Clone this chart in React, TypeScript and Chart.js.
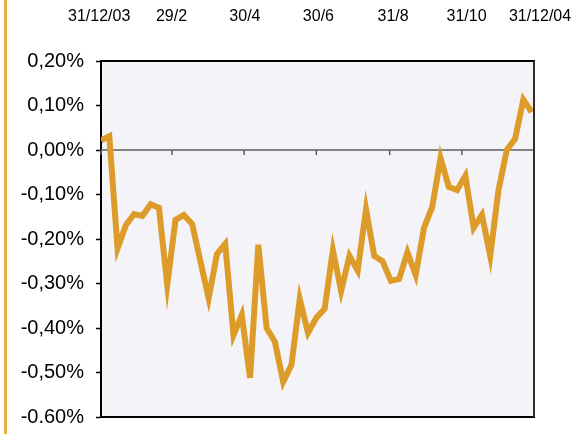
import React, { useEffect, useRef } from 'react';
import { Chart, registerables } from 'chart.js';

Chart.register(...registerables);

// Day offsets from 31/12/03 (weekly observations)
const obsDays = [
  0, 7, 14, 21, 28, 35, 42, 49, 56, 63, 70, 77, 84, 91, 98, 105, 112, 119,
  126, 133, 140, 147, 154, 161, 168, 175, 182, 189, 196, 203, 210, 217, 224,
  231, 238, 245, 252, 259, 266, 273, 280, 287, 294, 301, 308, 315, 322, 329,
  336, 343, 350, 357, 364,
];

// Series values, in percent
const seriesValues = [
  0.022, 0.031, -0.221, -0.169, -0.144, -0.148, -0.122, -0.13, -0.303, -0.157,
  -0.146, -0.166, -0.25, -0.333, -0.234, -0.211, -0.416, -0.371, -0.512, -0.213,
  -0.4, -0.431, -0.521, -0.483, -0.335, -0.411, -0.377, -0.357, -0.225, -0.317,
  -0.238, -0.271, -0.133, -0.238, -0.25, -0.294, -0.29, -0.23, -0.281, -0.175,
  -0.128, -0.018, -0.083, -0.09, -0.058, -0.175, -0.146, -0.238, -0.09, 0.0,
  0.025, 0.113, 0.085,
];

// Date ticks (day offsets) and their labels
const tickDays = [0, 60, 121, 182, 244, 305, 366];
const topLabels = ['31/12/03', '29/2', '30/4', '30/6', '31/8', '31/10', '31/12/04'];

const FONT = "'Liberation Sans', Arial, Helvetica, sans-serif";

const framePlugin = {
  id: 'frame',
  beforeDraw(chart: any) {
    const { ctx, chartArea: a } = chart;
    ctx.save();
    ctx.fillStyle = '#F4F4F8';
    ctx.fillRect(a.left, a.top, a.right - a.left, a.bottom - a.top);
    ctx.restore();
  },
  beforeDatasetsDraw(chart: any) {
    const { ctx, chartArea: a } = chart;
    const xs = chart.scales.x;
    const ys = chart.scales.y;
    const y0 = ys.getPixelForValue(0);
    ctx.save();
    ctx.strokeStyle = '#5c5c5c';
    ctx.lineWidth = 1.5;
    ctx.beginPath();
    ctx.moveTo(a.left, y0);
    ctx.lineTo(a.right, y0);
    ctx.stroke();
    tickDays.forEach((d) => {
      const px = xs.getPixelForValue(d);
      ctx.beginPath();
      ctx.moveTo(px, y0);
      ctx.lineTo(px, y0 + 5);
      ctx.stroke();
    });
    ctx.restore();
    ctx.miterLimit = 10;
  },
  afterDraw(chart: any) {
    const { ctx, chartArea: a } = chart;
    ctx.save();
    ctx.lineWidth = 2;
    ctx.strokeStyle = '#000';
    ctx.beginPath();
    ctx.moveTo(a.left - 1, a.top);
    ctx.lineTo(a.right + 1, a.top);
    ctx.moveTo(a.left - 1, a.bottom);
    ctx.lineTo(a.right + 1, a.bottom);
    ctx.stroke();
    ctx.strokeStyle = '#2e2e2e';
    ctx.beginPath();
    ctx.moveTo(a.right, a.top);
    ctx.lineTo(a.right, a.bottom);
    ctx.stroke();
    ctx.restore();
  },
};

export default function App() {
  const ref = useRef<HTMLCanvasElement>(null);

  useEffect(() => {
    Chart.defaults.font.family = FONT;
    const chart = new Chart(ref.current as HTMLCanvasElement, {
      type: 'line',
      data: {
        datasets: [
          {
            data: obsDays.map((d, i) => ({ x: d, y: seriesValues[i] })),
            borderColor: '#DD9C29',
            borderWidth: 6,
            pointRadius: 0,
            tension: 0,
            fill: false,
            borderJoinStyle: 'miter',
            xAxisID: 'x',
            yAxisID: 'y',
          },
        ],
      },
      options: {
        responsive: false,
        maintainAspectRatio: false,
        animation: false,
        layout: { padding: { left: 0, top: 0, right: 41, bottom: 17 } },
        plugins: {
          legend: { display: false },
          tooltip: { enabled: false },
        },
        scales: {
          x: {
            type: 'linear',
            display: false,
            min: 0,
            max: 366,
          },
          xTop: {
            type: 'linear',
            position: 'top',
            min: 1.5,
            max: 361,
            grid: { display: false, drawTicks: false },
            border: { display: false },
            afterBuildTicks: (s: any) => {
              s.ticks = tickDays.map((v) => ({ value: v }));
            },
            afterFit: (s: any) => {
              s.height = 61;
              s.paddingLeft = 0;
              s.paddingRight = 0;
              s.paddingTop = 0;
              s.paddingBottom = 0;
            },
            ticks: {
              autoSkip: false,
              maxRotation: 0,
              minRotation: 0,
              padding: 35,
              color: '#000',
              font: { size: 16, family: FONT },
              callback: (_v: any, i: number) => topLabels[i],
            },
          },
          y: {
            type: 'linear',
            position: 'left',
            min: -0.6,
            max: 0.2,
            grid: {
              drawOnChartArea: false,
              drawTicks: true,
              tickLength: 5,
              tickColor: '#000',
              tickWidth: 1.5,
            },
            border: { display: true, color: '#000', width: 2 },
            afterFit: (s: any) => {
              s.width = 101;
              s.paddingTop = 0;
              s.paddingBottom = 0;
              s.paddingLeft = 0;
              s.paddingRight = 0;
            },
            ticks: {
              stepSize: 0.1,
              padding: 12,
              color: '#000',
              font: { size: 20, family: FONT },
              callback: (v: any) => {
                const n = Math.abs(Number(v)) < 1e-9 ? 0 : Number(v);
                return n.toFixed(2).replace('.', ',') + '%';
              },
            },
          },
        },
      },
      plugins: [framePlugin],
    } as any);
    return () => chart.destroy();
  }, []);

  return (
    <div
      style={{
        position: 'fixed',
        left: 0,
        top: 0,
        width: 575,
        height: 434,
        background: '#fff',
        overflow: 'hidden',
      }}
    >
      <div
        style={{
          position: 'absolute',
          left: 0,
          top: 0,
          width: 575,
          height: 423,
          overflow: 'hidden',
        }}
      >
        <canvas
          ref={ref}
          width={575}
          height={434}
          style={{ display: 'block', width: 575, height: 434 }}
        />
      </div>
      <div
        style={{
          position: 'absolute',
          left: 4,
          top: 0,
          width: 3,
          height: 434,
          background: '#E8B040',
        }}
      />
    </div>
  );
}
